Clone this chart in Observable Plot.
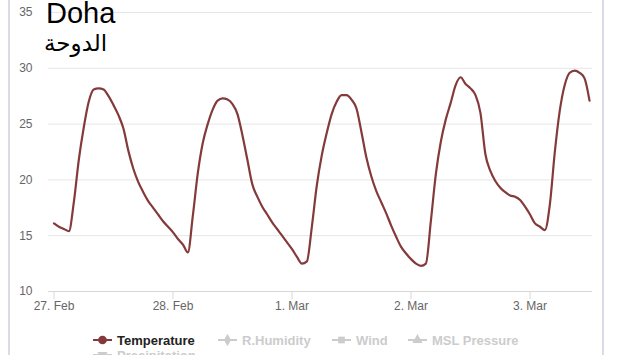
<!DOCTYPE html>
<html>
<head>
<meta charset="utf-8">
<script src="https://cdn.jsdelivr.net/npm/d3@7"></script>
<script src="https://cdn.jsdelivr.net/npm/@observablehq/plot@0.6"></script>
<style>
  html, body { margin: 0; padding: 0; background: #fff; overflow: hidden; }
  #wrap { position: relative; width: 620px; height: 355px; overflow: hidden; font-family: "Liberation Sans", Arial, sans-serif; }
  #frame { position: absolute; left: 8px; top: -2px; width: 592px; height: 400px; border-left: 2px solid #d9dbe9; border-right: 2px solid #d9dbe9; }
  #chart { position: absolute; left: 0; top: 0; }
  #title { position: absolute; left: 46px; top: 0px; font-size: 29px; line-height: 27px; color: #000; white-space: nowrap; }
  #subtitle { position: absolute; left: 44px; top: 30px; font-family: "DejaVu Sans", sans-serif; font-size: 23px; line-height: 27px; color: #000; white-space: nowrap; }
  .item { position: absolute; display: flex; align-items: center; font-size: 13px; font-weight: bold; white-space: nowrap; height: 16px; }
  .item svg { margin-right: 5px; }
</style>
</head>
<body>
<div id="wrap">
  <div id="frame"></div>
  <div id="chart"></div>
  <div id="title">Doha</div>
  <div id="subtitle" dir="rtl">الدوحة</div>
  <div id="legend"></div>
</div>
<script>
// Hourly temperature (°C) from 27 Feb 00:00
const startDate = "2023-02-27T00:00:00Z";
const temperature = [
  16.1, 15.8, 15.6, 15.4, 18.0, 21.8, 24.7, 27.0, 28.1, 28.2, 28.1, 27.5,
  26.7, 25.8, 24.6, 22.6, 21.0, 19.8, 18.9, 18.1, 17.5, 16.9, 16.3, 15.8,
  15.3, 14.7, 14.2, 13.5, 16.8, 20.6, 23.3, 25.0, 26.3, 27.1, 27.3, 27.2,
  26.8, 25.9, 24.0, 21.8, 19.6, 18.5, 17.6, 16.9, 16.2, 15.6, 15.0, 14.4,
  13.8, 13.1, 12.5, 12.7, 15.8, 19.5, 22.2, 24.2, 25.9, 27.0, 27.6, 27.6,
  27.2, 26.4, 24.3, 22.0, 20.3, 19.0, 18.0, 17.0, 15.9, 14.9, 14.0, 13.4,
  12.9, 12.5, 12.3, 12.5, 16.3, 20.5, 23.4, 25.4, 26.9, 28.5, 29.2, 28.6,
  28.2, 27.6, 26.0, 22.3, 20.8, 19.9, 19.3, 18.9, 18.6, 18.5, 18.2, 17.6,
  16.9, 16.1, 15.8, 15.5, 17.8, 22.5, 26.2, 28.5, 29.6, 29.8, 29.6, 29.1,
  27.1
];
const tickDates = ["2023-02-27", "2023-02-28", "2023-03-01", "2023-03-02", "2023-03-03"];
const tickLabels = ["27. Feb", "28. Feb", "1. Mar", "2. Mar", "3. Mar"];
const yTicks = [10, 15, 20, 25, 30, 35];
const seriesNames = ["Temperature", "R.Humidity", "Wind", "MSL Pressure", "Precipitation"];

const HOUR = 3600 * 1000;
const t0 = new Date(startDate).getTime();
const rows = temperature.map((v, i) => ({ time: new Date(t0 + i * HOUR), temp: v }));
const ticks = tickDates.map(d => new Date(d + "T00:00:00Z"));
const labelOf = new Map(ticks.map((d, i) => [d.getTime(), tickLabels[i]]));

const lineColor = "#843a3a";

const chart = Plot.plot({
  width: 620,
  height: 322,
  marginTop: 12,
  marginBottom: 31,
  marginLeft: 48,
  marginRight: 28,
  style: { fontFamily: "'Liberation Sans', Arial, sans-serif", fontSize: "12px", background: "transparent", color: "#666" },
  x: { type: "utc", domain: [new Date(t0 - 1.11 * HOUR), new Date(t0 + 108.6 * HOUR)] },
  y: { domain: [10, 35] },
  marks: [
    Plot.gridY(yTicks, { stroke: "#e6e6e6", strokeOpacity: 1 }),
    Plot.ruleY([10], { stroke: "#d8d8d8" }),
    Plot.axisY(yTicks, { tickSize: 0, tickPadding: 16, label: null, fill: "#666" }),
    Plot.axisX(ticks, { tickSize: 8, tickPadding: 2, stroke: "#d8d8d8", fill: "#666", label: null, tickFormat: d => labelOf.get(d.getTime()) }),
    Plot.line(rows, { x: "time", y: "temp", stroke: lineColor, strokeWidth: 2.2, curve: "monotone-x" })
  ]
});
document.getElementById("chart").appendChild(chart);

// Legend
const legendPos = [[93, 332], [218, 332], [332, 332], [408, 332], [93, 347]];
const markerShapes = ["circle", "diamond", "square", "triangle", "triangle-down"];
const legend = document.getElementById("legend");
seriesNames.forEach((name, i) => {
  const active = i === 0;
  const col = active ? lineColor : "#cccccc";
  const div = document.createElement("div");
  div.className = "item";
  div.style.left = legendPos[i][0] + "px";
  div.style.top = legendPos[i][1] + "px";
  div.style.color = active ? "#222" : "#cccccc";
  const sym = d3.symbol().type({
    "circle": d3.symbolCircle, "diamond": d3.symbolDiamond, "square": d3.symbolSquare,
    "triangle": d3.symbolTriangle, "triangle-down": d3.symbolTriangle
  }[markerShapes[i]]).size(active ? 60 : 45)();
  const rot = markerShapes[i] === "triangle-down" ? " rotate(180)" : "";
  div.innerHTML = `<svg width="19" height="16"><line x1="0" x2="19" y1="8" y2="8" stroke="${col}" stroke-width="2"/><path d="${sym}" transform="translate(9.5,8)${rot}" fill="${col}"/></svg><span>${name}</span>`;
  legend.appendChild(div);
});
</script>
</body>
</html>
